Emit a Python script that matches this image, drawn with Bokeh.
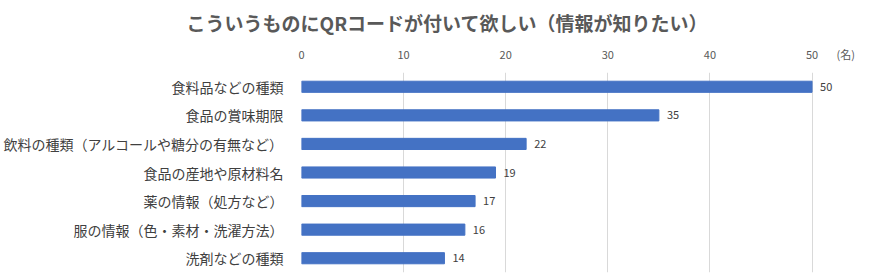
from bokeh.plotting import figure
from bokeh.models import ColumnDataSource, LabelSet, FactorRange, Range1d, Title, FixedTicker
from bokeh.core.properties import value
from bokeh.embed import file_html
from bokeh.resources import INLINE

title_text = "こういうものにQRコードが付いて欲しい（情報が知りたい）"
categories = ["食料品などの種類", "食品の賞味期限", "飲料の種類（アルコールや糖分の有無など）",
              "食品の産地や原材料名", "薬の情報（処方など）", "服の情報（色・素材・洗濯方法）", "洗剤などの種類"]
values = [50, 35, 22, 19, 17, 16, 14]
tick_values = [0, 10, 20, 30, 40, 50]
unit_label = "(名)"

FONT = "Noto Sans CJK JP"
UNIT_POS = 53.3  # position of the unit label along the top axis

src = ColumnDataSource(dict(cat=categories, val=values, txt=[str(v) for v in values]))

p = figure(width=882, height=273, output_backend="svg", toolbar_location=None,
           y_range=FactorRange(factors=categories[::-1]), x_range=Range1d(0, 56.9),
           x_axis_location="above", min_border_left=300, min_border_right=0,
           min_border_top=72, min_border_bottom=1)
p.outline_line_color = None
p.hbar(y="cat", right="val", height=0.39, source=src, color="#4472C4")

p.title = Title(text=title_text, align="left", offset=-115, standoff=13, text_font=FONT,
                text_font_size="19px", text_font_style="bold", text_color="#595959")

p.xaxis.ticker = FixedTicker(ticks=tick_values + [UNIT_POS])
p.xaxis.major_label_overrides = {UNIT_POS: unit_label}
p.xaxis.axis_line_color = None
p.xaxis.major_tick_line_color = None
p.xaxis.minor_tick_line_color = None
p.xaxis.major_label_text_font = FONT
p.xaxis.major_label_text_font_size = "11px"
p.xaxis.major_label_text_color = "#595959"
p.xaxis.major_label_standoff = 5

p.yaxis.axis_line_color = None
p.yaxis.major_tick_line_color = None
p.yaxis.major_label_text_font = FONT
p.yaxis.major_label_text_font_size = "14px"
p.yaxis.major_label_text_color = "#404040"
p.yaxis.major_label_standoff = 12

p.xgrid.ticker = FixedTicker(ticks=tick_values)
p.xgrid.grid_line_color = "#d9d9d9"
p.ygrid.grid_line_color = None

labels = LabelSet(x="val", y="cat", text="txt", source=src, x_offset=8,
                  text_baseline="middle", text_font_size="11px", text_color="#404040",
                  text_font=value(FONT))
p.add_layout(labels)

open("out.html", "w").write(file_html(p, INLINE))
